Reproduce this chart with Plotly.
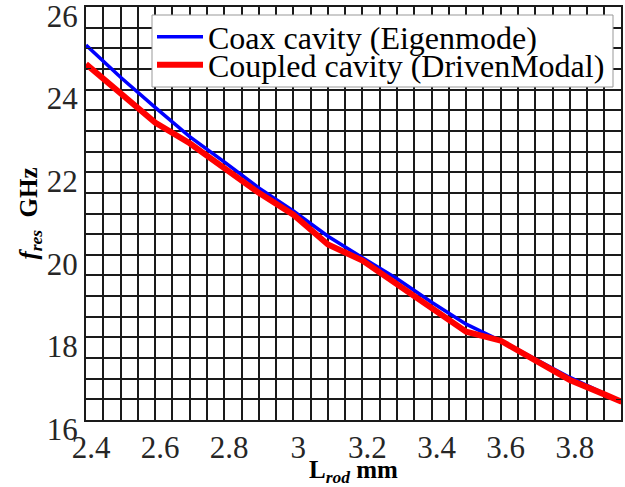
import plotly.graph_objects as go

# Data
l_rod = [2.4, 2.5, 2.6, 2.7, 2.8, 2.9, 3.0, 3.1, 3.2, 3.3, 3.4, 3.5, 3.6, 3.7, 3.8, 3.9, 3.95]
f_coax = [25.08, 24.30, 23.57, 22.86, 22.25, 21.62, 21.06, 20.45, 19.93, 19.42, 18.85, 18.32, 17.92, 17.47, 17.03, 16.64, 16.44]
f_coupled = [24.62, 23.90, 23.20, 22.70, 22.10, 21.50, 20.97, 20.25, 19.86, 19.28, 18.70, 18.14, 17.92, 17.45, 16.97, 16.62, 16.44]

x_ticks = [2.4, 2.6, 2.8, 3.0, 3.2, 3.4, 3.6, 3.8]
x_ticklabels = ["2.4", "2.6", "2.8", "3", "3.2", "3.4", "3.6", "3.8"]
y_ticks = [16, 18, 20, 22, 24, 26]
y_ticklabels = ["16", "18", "20", "22", "24", "26"]

series_names = ["Coax cavity (Eigenmode)", "Coupled cavity (DrivenModal)"]

SERIF = "Liberation Serif"

fig = go.Figure()
fig.add_trace(go.Scatter(x=l_rod, y=f_coax, mode="lines", name=series_names[0],
                         line=dict(color="#0000ff", width=3.5), legend="legend"))
fig.add_trace(go.Scatter(x=l_rod, y=f_coupled, mode="lines", name=series_names[1],
                         line=dict(color="#ff0000", width=6), legend="legend2"))

grid_col = "#1a1a1a"
tick_font = dict(family=SERIF, size=31, color="#262626")

W, H = 625, 487
ml, mr, mt, mb = 86, 4, 7, 67
pw, ph = W - ml - mr, H - mt - mb


def px_x(p):
    return (p - ml) / pw


def px_y(p):
    return (H - mb - p) / ph


leg_common = dict(xanchor="left", yanchor="middle", bgcolor="rgba(0,0,0,0)",
                  borderwidth=0, font=dict(family=SERIF, size=32, color="black"),
                  itemwidth=46)

fig.update_layout(
    width=W, height=H,
    font=dict(family=SERIF),
    margin=dict(l=ml, r=mr, t=mt, b=mb, autoexpand=False),
    paper_bgcolor="white", plot_bgcolor="white",
    showlegend=True,
    legend=dict(x=px_x(152), y=px_y(37), **leg_common),
    legend2=dict(x=px_x(152), y=px_y(65), **leg_common),
    shapes=[dict(type="rect", xref="paper", yref="paper",
                 x0=px_x(152), x1=px_x(613), y0=px_y(87), y1=px_y(15),
                 fillcolor="white", line=dict(color="#999999", width=1), layer="above")],
    xaxis=dict(range=[2.4, 3.948], tickmode="array", tickvals=x_ticks, ticktext=x_ticklabels,
               automargin=False, ticklabeloverflow="allow",
               showgrid=True, gridcolor=grid_col, gridwidth=2,
               minor=dict(dtick=0.05, tick0=2.4, showgrid=True, gridcolor=grid_col, gridwidth=2,
                          ticks="inside", ticklen=5, tickcolor=grid_col),
               ticks="inside", ticklen=5, tickcolor=grid_col,
               showline=True, linecolor=grid_col, linewidth=2, mirror="ticks",
               zeroline=False, tickfont=tick_font, ticklabelshift=5, ticklabelstandoff=-1,
               title=dict(text="<b>L<sub><i>rod</i></sub> mm</b>",
                          font=dict(family=SERIF, size=25, color="black"),
                          standoff=10)),
    yaxis=dict(range=[16, 26], tickmode="array", tickvals=y_ticks, ticktext=y_ticklabels,
               automargin=False, ticklabeloverflow="allow",
               showgrid=True, gridcolor=grid_col, gridwidth=2,
               minor=dict(dtick=0.5, tick0=16, showgrid=True, gridcolor=grid_col, gridwidth=2,
                          ticks="inside", ticklen=5, tickcolor=grid_col),
               ticks="inside", ticklen=5, tickcolor=grid_col,
               showline=True, linecolor=grid_col, linewidth=2, mirror="ticks",
               zeroline=False, tickfont=tick_font, ticklabelshift=9, ticklabelstandoff=0,
               title=dict(text="<b><i>f</i><sub><i>res</i></sub>  GHz</b>",
                          font=dict(family=SERIF, size=25, color="black"),
                          standoff=2)),
)

fig.write_html("out.html")
